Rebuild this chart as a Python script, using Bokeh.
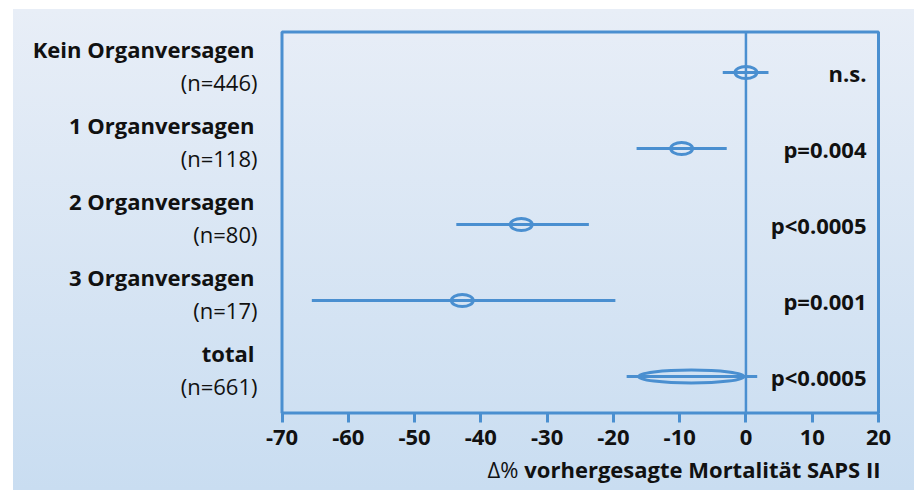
from bokeh.plotting import figure
from bokeh.models import Range1d, LabelSet, Label, ColumnDataSource, FixedTicker, LinearAxis
from bokeh.core.properties import value
from bokeh.embed import file_html
from bokeh.resources import INLINE

# ---- data ----
groups = ["Kein Organversagen", "1 Organversagen", "2 Organversagen", "3 Organversagen", "total"]
n_labels = ["(n=446)", "(n=118)", "(n=80)", "(n=17)", "(n=661)"]
estimate = [0.0, -9.7, -33.9, -42.8, -8.2]
ci_low = [-3.5, -16.5, -43.7, -65.5, -18.0]
ci_high = [3.4, -2.9, -23.7, -19.7, 1.7]
p_values = ["n.s.", "p=0.004", "p<0.0005", "p=0.001", "p<0.0005"]
total_band_low = -16.2
total_band_high = -0.3
x_ticks = [-70, -60, -50, -40, -30, -20, -10, 0, 10, 20]
x_title = "vorhergesagte Mortalität SAPS II"
x_title_prefix = "Δ%"

# ---- layout constants (pixels) ----
W, H = 914, 490
BOX_L, BOX_R, BOX_T, BOX_B = 281.5, 878.0, 31.5, 412.5
ROW0_PX, ROW_STEP = 72.0, 76.0
xmin, xmax = x_ticks[0], x_ticks[-1]
sx = (BOX_R - BOX_L) / (xmax - xmin)


def px_to_x(px):
    return xmin + (px - BOX_L) / sx


def px_to_y(py):
    return (py - ROW0_PX) / ROW_STEP


BLUE = "#4a8fd0"
FONT = "Open Sans"
TXT = "#111111"
rows = list(range(len(groups)))
box_top, box_bot = px_to_y(BOX_T), px_to_y(BOX_B)

p = figure(width=W, height=H, output_backend="svg", toolbar_location=None,
           x_range=Range1d(px_to_x(0), px_to_x(W)), y_range=Range1d(px_to_y(H), px_to_y(0)),
           x_axis_type=None, y_axis_type=None, min_border=0)
p.styles = {"background": "white linear-gradient(to bottom, #e8eef7, #c9ddf1) 13px 9px / 901px 481px no-repeat"}
p.border_fill_color = None
p.background_fill_color = None
p.outline_line_color = None
p.grid.visible = False

# box
p.quad(left=[xmin], right=[xmax], top=[box_top], bottom=[box_bot],
       fill_color=None, line_color=BLUE, line_width=3)
# zero line
p.segment(x0=[0], x1=[0], y0=[box_top], y1=[box_bot], line_color=BLUE, line_width=2.5)

ax = LinearAxis(fixed_location=box_bot)
ax.ticker = FixedTicker(ticks=x_ticks)
ax.major_label_overrides = {t: str(t) for t in x_ticks}
ax.axis_line_color = None
ax.major_tick_line_color = BLUE
ax.major_tick_line_width = 3
ax.major_tick_in = 0
ax.major_tick_out = 9
ax.minor_tick_line_color = None
ax.major_label_text_font = FONT
ax.major_label_text_font_style = "bold"
ax.major_label_text_font_size = "22px"
ax.major_label_text_color = TXT
ax.major_label_standoff = 8
p.add_layout(ax, "below")

src = ColumnDataSource(dict(
    row=rows, est=estimate, lo=ci_low, hi=ci_high, grp=groups, n=n_labels, pv=p_values,
    name_y=[r - 0.31 for r in rows], n_y=[r + 0.13 for r in rows],
))
p.segment(x0="lo", y0="row", x1="hi", y1="row", source=src, line_color=BLUE, line_width=3)

single = ColumnDataSource(dict(x=estimate[:4], y=rows[:4]))
p.ellipse(x="x", y="y", width=22, height=12, width_units="screen", height_units="screen",
          source=single, fill_color=None, line_color=BLUE, line_width=3)

tot = ColumnDataSource(dict(x=[(total_band_low + total_band_high) / 2], y=[rows[4]],
                            w=[total_band_high - total_band_low]))
p.ellipse(x="x", y="y", width="w", height=13, height_units="screen",
          source=tot, fill_color=None, line_color=BLUE, line_width=3)

p.add_layout(LabelSet(x=px_to_x(254), y="name_y", text="grp", source=src,
                      text_align="right", text_baseline="middle", text_font=value(FONT),
                      text_font_style="bold", text_font_size="22px", text_color=TXT))
p.add_layout(LabelSet(x=px_to_x(257), y="n_y", text="n", source=src,
                      text_align="right", text_baseline="middle", text_font=value(FONT),
                      text_font_size="22px", text_color=TXT))
p.add_layout(LabelSet(x=px_to_x(866), y="row", text="pv", source=src,
                      text_align="right", text_baseline="middle", text_font=value(FONT),
                      text_font_style="bold", text_font_size="22px", text_color=TXT))

p.add_layout(Label(x=px_to_x(880), y=px_to_y(468), text=x_title,
                   text_align="right", text_baseline="middle", text_font=FONT,
                   text_font_style="bold", text_font_size="22px", text_color=TXT))
p.add_layout(Label(x=px_to_x(518), y=px_to_y(468), text=x_title_prefix,
                   text_align="right", text_baseline="middle", text_font=FONT,
                   text_font_size="22px", text_color=TXT))

open("out.html", "w").write(file_html(p, INLINE))
